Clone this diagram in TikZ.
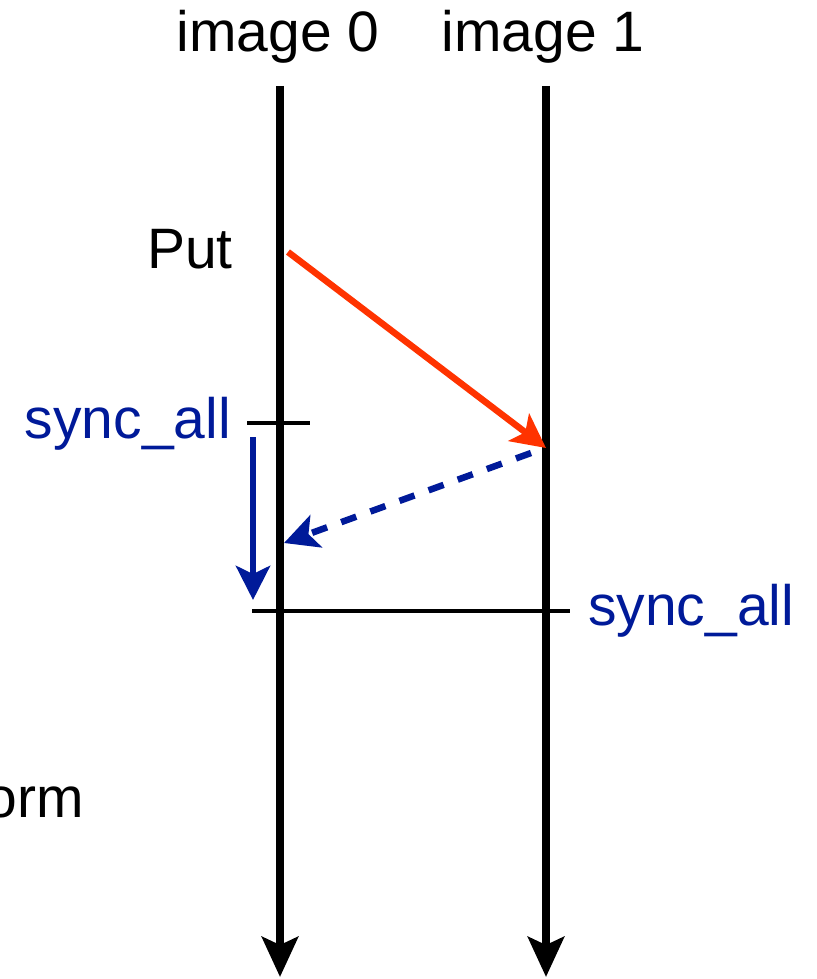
\documentclass[tikz,border=0pt]{standalone}
\usepackage{fontspec}
\setmainfont{Liberation Sans}
\usetikzlibrary{arrows.meta}
\definecolor{syncblue}{HTML}{001A99}
\definecolor{putred}{HTML}{FF3300}
\begin{document}
\begin{tikzpicture}[x=1pt,y=-1pt,
  lbl/.style={inner sep=0pt,font=\fontsize{57}{68}\selectfont},
  life/.style={line width=8pt,-{Stealth[length=40pt,width=36pt,inset=8pt]}},
  msg/.style={line width=6.5pt,-{Stealth[length=34pt,width=34pt,inset=8pt]}},
  tick/.style={line width=3.5pt}]
\useasboundingbox (0,0) rectangle (816,979);
% lifelines
\coordinate (t0) at (280,86);
\coordinate (b0) at (280,977);
\coordinate (t1) at (546,86);
\coordinate (b1) at (546,977);
\draw[life] (t0) -- (b0);
\draw[life] (t1) -- (b1);
% headers
\node[lbl,anchor=base] (h0) at (278,52) {image 0};
\node[lbl,anchor=base] (h1) at (543,52) {image 1};
% Put
\node[lbl,anchor=base east] (put) at (233,268) {Put};
\coordinate (ps) at (288,252);
\coordinate (pe) at (546,448);
\draw[msg,putred] (ps) -- (pe);
% sync_all left
\node[lbl,anchor=base east,text=syncblue] (s0) at (231,438) {sync\_all};
\coordinate (k0a) at (247,423);
\coordinate (k0b) at (310,423);
\draw[tick] (k0a) -- (k0b);
\coordinate (ws) at (253,437);
\coordinate (we) at (253,600);
\draw[msg,syncblue] (ws) -- (we);
% dashed notification
\coordinate (ds) at (531,453);
\coordinate (de) at (284,543);
\draw[msg,syncblue,dash pattern=on 16pt off 15pt] (ds) -- (de);
% sync_all right
\coordinate (k1a) at (252,611);
\coordinate (k1b) at (570,611);
\draw[tick] (k1a) -- (k1b);
\node[lbl,anchor=base west,text=syncblue] (s1) at (588,625) {sync\_all};
% text cut by the left edge, as in the reference
\node[lbl,anchor=base east] (orm) at (84,817) {orm};
\end{tikzpicture}
\end{document}
